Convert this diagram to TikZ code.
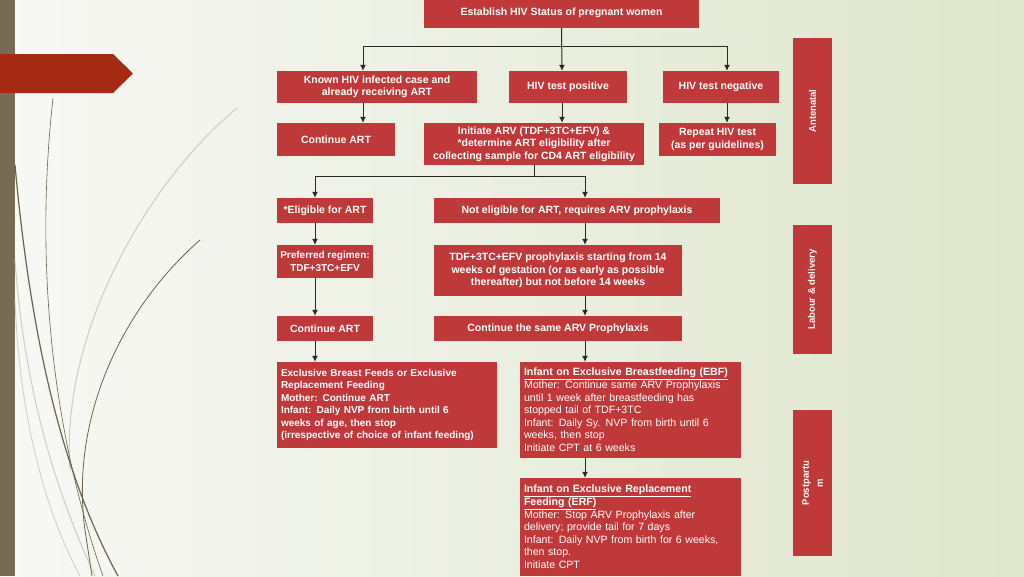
\documentclass[tikz,border=0pt]{standalone}
\usepackage{fontspec}
\setmainfont{Liberation Sans}
\usetikzlibrary{positioning, arrows.meta, calc}
\definecolor{cBox}{RGB}{192,57,58}
\definecolor{cTab}{RGB}{165,42,20}
\definecolor{cBar}{RGB}{118,108,85}
\definecolor{cBgL}{RGB}{248,248,245}
\definecolor{cBgR}{RGB}{222,230,204}
\definecolor{cLine}{RGB}{40,40,40}
\definecolor{cVine}{RGB}{105,100,75}
\definecolor{cVineL}{RGB}{205,205,200}

\begin{document}
\begin{tikzpicture}[x=1pt, y=-1pt,
  box/.style={fill=cBox, text=white, inner sep=2pt, align=center,
    font=\fontsize{10.5}{12.5}\selectfont\bfseries},
  note/.style={box, align=left, font=\fontsize{10.6}{12.6}\selectfont},
  phase/.style={box, rotate=90, font=\fontsize{9.5}{12}\selectfont\bfseries},
  link/.style={draw=cLine, line width=1pt, -{Latex[length=6pt,width=6pt]}}
]

    \useasboundingbox (0,0) rectangle (1024,576);

    % --- Background ---
    \shade[left color=cBgL, right color=cBgR] (0,0) rectangle (1024,576);
    \fill[cBar] (0,0) rectangle (15,576);
    \fill[cTab] (0,54) -- (113,54) -- (133,73.5) -- (113,93) -- (0,93) -- cycle;

    % vines
    \draw[cVineL, line width=1pt] (237,108) .. controls (150,180) and (60,330) .. (70,470);
    \draw[cVineL, line width=1pt] (15,260) .. controls (25,400) and (60,500) .. (95,576);
    \draw[cVineL, line width=0.8pt] (15,300) .. controls (20,430) and (50,520) .. (80,576);
    \draw[cVine, line width=0.6pt] (53,98) .. controls (36,250) and (48,420) .. (103,576);
    \draw[cVine, line width=1.2pt] (15,165) .. controls (30,330) and (60,470) .. (118,576);
    \draw[cVine, line width=0.8pt] (200,240) .. controls (120,310) and (70,420) .. (85,530) -- (92,576);

    % --- Antenatal ---
    \node[box, minimum width=275pt, minimum height=30pt] (est) at (561.5,13) {Establish HIV Status of pregnant women};

    \node[box, minimum width=200pt, minimum height=32pt] (known) at (377,87) {Known HIV infected case and\\already receiving ART};
    \node[box, minimum width=118pt, minimum height=32pt] (pos) at (568,87) {HIV test positive};
    \node[box, minimum width=116pt, minimum height=32pt] (neg) at (721,87) {HIV test negative};

    \node[box, minimum width=118pt, minimum height=33pt] (cont1) at (336,139.5) {Continue ART};
    \node[box, minimum width=220pt, minimum height=42pt] (init) at (534,144) {Initiate ARV (TDF+3TC+EFV) \&\\*determine ART eligibility after\\collecting sample for CD4 ART eligibility};
    \node[box, minimum width=117pt, minimum height=33pt] (rep) at (717.5,139.5) {Repeat HIV test\\(as per guidelines)};

    % --- Eligibility ---
    \node[box, minimum width=96pt, minimum height=25pt] (elig) at (325,210.5) {*Eligible for ART};
    \node[box, minimum width=286pt, minimum height=25pt] (nelig) at (577,210.5) {Not eligible for ART, requires ARV prophylaxis};

    \node[box, font=\fontsize{10}{12.5}\selectfont\bfseries, inner sep=0.5pt, minimum width=96pt, minimum height=33pt] (pref) at (325,261.5) {Preferred regimen:\\TDF+3TC+EFV};
    \node[box, minimum width=248pt, minimum height=51pt] (tdf) at (558,270.5) {TDF+3TC+EFV prophylaxis starting from 14\\weeks of gestation (or as early as possible\\thereafter) but not before 14 weeks};

    % --- Labour & delivery ---
    \node[box, minimum width=96pt, minimum height=25pt] (cont2) at (325,328.5) {Continue ART};
    \node[box, minimum width=248pt, minimum height=25pt] (cont3) at (558,328.5) {Continue the same ARV Prophylaxis};

    % --- Postpartum ---
    \node[note, font=\fontsize{10}{12.5}\selectfont\bfseries, minimum width=220pt, minimum height=86pt, text width=212pt] (exbf) at (387,405) {Exclusive Breast Feeds or Exclusive\\Replacement Feeding\\Mother: Continue ART\\Infant: Daily NVP from birth until 6\\weeks of age, then stop\\(irrespective of choice of infant feeding)};
    \node[note, minimum width=221pt, minimum height=96pt, text width=213pt] (ebf) at (630.5,410) {\textbf{\underline{Infant on Exclusive Breastfeeding (EBF)}}\\Mother: Continue same ARV Prophylaxis\\until 1 week after breastfeeding has\\stopped tail of TDF+3TC\\Infant: Daily Sy. NVP from birth until 6\\weeks, then stop\\Initiate CPT at 6 weeks};
    \node[note, minimum width=221pt, minimum height=98pt, text width=213pt] (erf) at (630.5,527) {\textbf{\underline{Infant on Exclusive Replacement}}\\\textbf{\underline{Feeding (ERF)}}\\Mother: Stop ARV Prophylaxis after\\delivery; provide tail for 7 days\\Infant: Daily NVP from birth for 6 weeks,\\then stop.\\Initiate CPT};

    % --- Phase labels ---
    \node[phase, minimum width=146pt, minimum height=39pt] (ante) at (812.5,111) {Antenatal};
    \node[phase, minimum width=129pt, minimum height=39pt] (lab) at (812.5,289.5) {Labour \& delivery};
    \node[phase, font=\fontsize{9.5}{14}\selectfont\bfseries, minimum width=146pt, minimum height=39pt, align=center] (post) at (812.5,483) {Postpartu\\m};

    % --- Connectors ---
    \coordinate (kx) at (363,0);
    \coordinate (px) at (562,0);
    \coordinate (nx) at (727,0);
    \coordinate (lx) at (315,0);
    \coordinate (rx) at (585,0);
    \coordinate (b1) at (562,46);
    \coordinate (b2) at (534,176);

    \draw[link] (est.south) -- (px |- pos.north);
    \draw[link] (b1) -| (kx |- known.north);
    \draw[link] (b1) -| (nx |- neg.north);

    \draw[link] (kx |- known.south) -- (kx |- cont1.north);
    \draw[link] (px |- pos.south) -- (px |- init.north);
    \draw[link] (nx |- neg.south) -- (nx |- rep.north);

    \draw[draw=cLine, line width=1pt] (init.south) -- (b2);
    \draw[link] (b2) -| (lx |- elig.north);
    \draw[link] (b2) -| (rx |- nelig.north);

    \draw[link] (lx |- elig.south) -- (lx |- pref.north);
    \draw[link] (lx |- pref.south) -- (lx |- cont2.north);
    \draw[link] (lx |- cont2.south) -- (lx |- exbf.north);

    \draw[link] (rx |- nelig.south) -- (rx |- tdf.north);
    \draw[link] (rx |- tdf.south) -- (rx |- cont3.north);
    \draw[link] (rx |- cont3.south) -- (rx |- ebf.north);
    \draw[link] (rx |- ebf.south) -- (rx |- erf.north);

\end{tikzpicture}
\end{document}
